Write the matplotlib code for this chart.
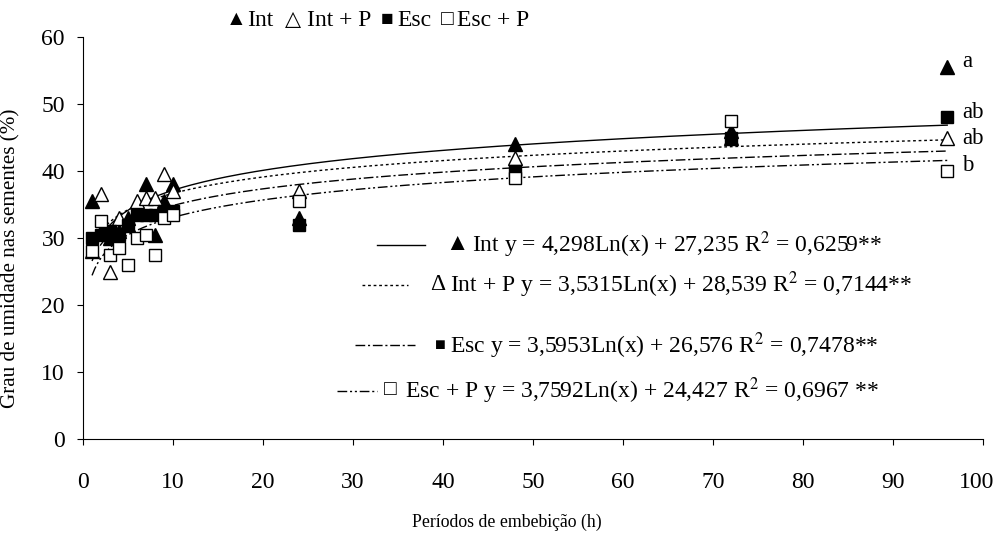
import numpy as np
import matplotlib.pyplot as plt
from matplotlib.transforms import ScaledTranslation

plt.rcParams['font.family'] = ['Liberation Serif', 'DejaVu Serif']
plt.rcParams['mathtext.fontset'] = 'stix'

horas = [1, 2, 3, 4, 5, 6, 7, 8, 9, 10, 24, 48, 72, 96]
int_y = [35.5, 31, 30, 31, 33, 34, 38, 30.5, 35.5, 38, 33, 44, 46, 55.5]
intp_y = [28, 36.5, 25, 33, 32, 35.5, 36, 36, 39.5, 37, 37, 42, 45, 45]
esc_y = [30, 30.5, 31, 30.5, 32, 33.5, 33.5, 33.5, 34, 34, 32, 40, 45, 48]
escp_y = [28, 32.5, 27.5, 28.5, 26, 30, 30.5, 27.5, 33, 33.5, 35.5, 39, 47.5, 40]

# coeficientes das regressoes y = a*Ln(x) + b
coef = {'Int': (4.298, 27.235), 'Int + P': (3.5315, 28.539),
        'Esc': (3.5953, 26.576), 'Esc + P': (3.7592, 24.427)}
letras = ['a', 'ab', 'ab', 'b']

fig = plt.figure(figsize=(9.98, 5.41), dpi=100)
ax = fig.add_axes([0.0832, 0.1885, 0.902, 0.743])

xs = np.linspace(1, 96, 300)
estilos = {'Int': '-', 'Int + P': (0, (2, 2)),
           'Esc': (0, (7, 2, 1.5, 2)), 'Esc + P': (0, (7, 2, 1.5, 2, 1.5, 2))}
for k, (a, b) in coef.items():
    ax.plot(xs, a * np.log(xs) + b, color='black', lw=1, ls=estilos[k], zorder=2)

ax.plot(horas, int_y, '^', color='black', ms=10, ls='none', zorder=3)
ax.plot(horas, intp_y, '^', mfc='white', mec='black', mew=1, ms=10, ls='none', zorder=3)
ax.plot(horas, esc_y, 's', color='black', ms=8, ls='none', zorder=3)
ax.plot(horas, escp_y, 's', mfc='white', mec='black', mew=1, ms=8, ls='none', zorder=3)

ax.set_xlim(0, 100)
ax.set_ylim(0, 60)
ax.set_xticks(range(0, 101, 10))
ax.set_yticks(range(0, 61, 10))
ax.xaxis.set_tick_params(labelsize=17, direction='out', length=4, width=0.8, pad=20)
ax.yaxis.set_tick_params(labelsize=17, direction='out', length=4, width=0.8, pad=9)
for s in ['top', 'right']:
    ax.spines[s].set_visible(False)
ax.spines['left'].set_linewidth(0.8)
ax.spines['bottom'].set_linewidth(0.8)

# "100" encostado na borda direita
ult = ax.get_xticklabels()[-1]
ult.set_transform(ult.get_transform() + ScaledTranslation(-5 / 72, 0, fig.dpi_scale_trans))

ax.set_ylabel('Grau de umidade nas sementes (%)', fontsize=15.2)
ax.yaxis.set_label_coords(-0.07, 0.45)
fig.text(0.508, 0.035, 'Períodos de embebição (h)', fontsize=12.8, ha='center', va='center')

# letras de significancia
for txt, yv in zip(letras, [56.3, 48.7, 44.9, 40.9]):
    ax.text(97.7, yv, txt, fontsize=16.5, va='center', ha='left', clip_on=False)

# legenda superior
yl = 0.963
for xp, txt, fs in [(226, '▲', 15), (247, 'Int', 17), (285, '△', 15),
                    (307, 'Int + P', 17), (381, '■', 15), (397, 'Esc', 17),
                    (441, '□', 15), (457, 'Esc + P', 17)]:
    fig.text(xp / 998, yl, txt, fontsize=fs, va='center', ha='left',
             family=['Liberation Serif', 'DejaVu Sans'])

# equacoes
eqs = [
    ('-', 377, 425, 29.0, 445, '▲', 17, 472, 'Int y = 4,298Ln(x) + 27,235 R$^2$ = 0,6259**'),
    ((0, (2, 2)), 362, 408, 23.0, 430, 'Δ', 17, 450, 'Int + P y = 3,5315Ln(x) + 28,539 R$^2$ = 0,7144**'),
    ((0, (7, 2, 1.5, 2)), 355, 415, 14.0, 435, '■', 13, 450, 'Esc y = 3,5953Ln(x) + 26,576 R$^2$ = 0,7478**'),
    ((0, (7, 2, 1.5, 2, 1.5, 2)), 337, 377, 7.2, 384, '□', 15, 405, 'Esc + P y = 3,7592Ln(x) + 24,427 R$^2$ = 0,6967 **'),
]
for ls, x0, x1, yv, xs_, simb, fs, xt, txt in eqs:
    ax.plot([(x0 - 83) / 9, (x1 - 83) / 9], [yv, yv], color='black', lw=1, ls=ls)
    ax.text((xs_ - 83) / 9, yv, simb, fontsize=fs, va='center', ha='left',
            family=['Liberation Serif', 'DejaVu Sans'])
    ax.text((xt - 83) / 9, yv, txt, fontsize=17, va='center', ha='left')

fig.savefig('out.png', dpi=100)
